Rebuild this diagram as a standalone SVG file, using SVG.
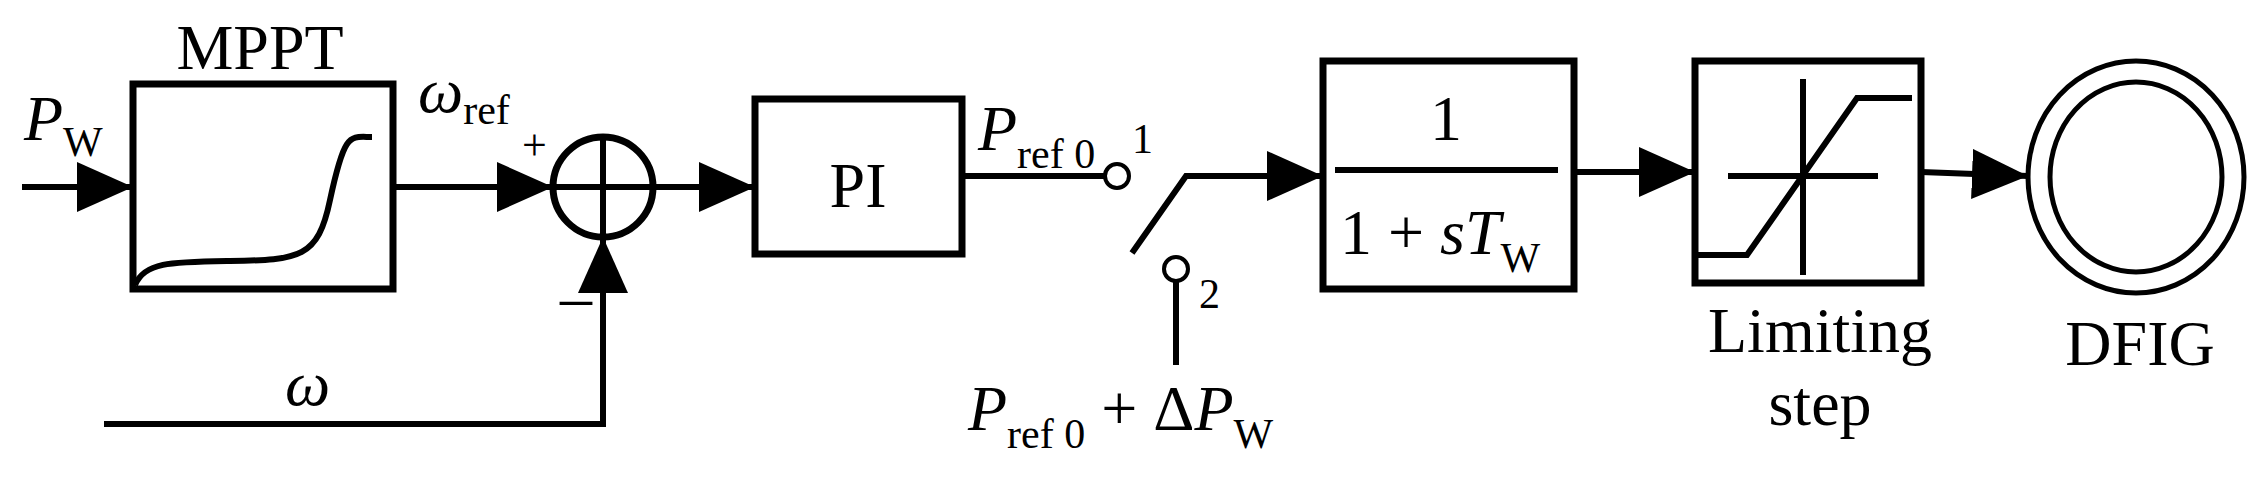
<svg xmlns="http://www.w3.org/2000/svg" width="2268" height="484" viewBox="0 0 2268 484">
<style>
.b{fill:none;stroke:#000;stroke-width:7}
.l{fill:none;stroke:#000;stroke-width:6}
.t{font-family:"Liberation Serif","Times New Roman","DejaVu Serif",serif;font-size:64px;fill:#000}
.i{font-style:italic}
.s{font-size:42px}
</style>
<defs><marker id="A" viewBox="0 0 10 10" refX="10" refY="5" markerWidth="56" markerHeight="50" orient="auto" markerUnits="userSpaceOnUse" preserveAspectRatio="none"><path d="M0,0L10,5L0,10Z"/></marker></defs>
<rect width="2268" height="484" fill="#fff"/>
<g id="mppt"><rect class="b" x="133" y="84" width="260" height="205"/>
<path class="l" d="M135,285C145,262 170,262 230,261C300,260 318,258 330,200C345,130 350,137 372,137"/>
<text class="t" x="260" y="69" text-anchor="middle">MPPT</text></g>
<g id="sum"><circle class="b" cx="603" cy="187" r="50"/><path class="l" d="M553,187H653M603,137V237"/></g>
<g id="pi"><rect class="b" x="755" y="99" width="207" height="155"/><text class="t" x="858" y="207" text-anchor="middle">PI</text></g>
<g id="switch"><circle class="l" style="stroke-width:4" cx="1117" cy="176" r="12"/><circle class="l" style="stroke-width:4" cx="1176" cy="269" r="12"/>
<path class="l" d="M1176,281V365"/><text class="t s" x="1132" y="153">1</text><text class="t s" x="1199" y="308">2</text></g>
<g id="lag"><rect class="b" x="1323" y="61" width="251" height="228"/><path class="l" d="M1335,170H1558"/>
<text class="t" x="1446" y="140" text-anchor="middle">1</text>
<text class="t" x="1340" y="254">1 + <tspan class="i">sT</tspan><tspan class="s" dy="18">W</tspan></text></g>
<g id="limit"><rect class="b" x="1695" y="61" width="226" height="222"/>
<path class="l" d="M1728,176H1878M1803,79V275M1697,255H1747L1857,98H1912"/>
<text class="t" x="1820" y="352" text-anchor="middle">Limiting</text><text class="t" x="1820" y="425" text-anchor="middle">step</text></g>
<g id="dfig"><ellipse class="l" style="stroke-width:5" cx="2136" cy="177" rx="108" ry="116"/><ellipse class="l" style="stroke-width:5" cx="2136" cy="177" rx="86" ry="95"/>
<text class="t" x="2140" y="365" text-anchor="middle">DFIG</text></g>
<g id="connectors">
<path class="l" d="M22,187H133" marker-end="url(#A)"/>
<path class="l" d="M393,187H553" marker-end="url(#A)"/>
<path class="l" d="M653,187H755" marker-end="url(#A)"/>
<path class="l" d="M104,424H603V237" marker-end="url(#A)"/>
<path class="l" d="M962,176H1105"/>
<path class="l" d="M1132,253L1186,176H1323" marker-end="url(#A)"/>
<path class="l" d="M1574,172H1695" marker-end="url(#A)"/>
<path class="l" d="M1921,172L2028,176" marker-end="url(#A)"/>
</g>
<g id="labels">
<text class="t i" x="418" y="112">ω<tspan class="s" style="font-style:normal" dy="12">ref</tspan></text>
<text class="t i" x="24" y="140">P<tspan class="s" style="font-style:normal" dy="16">W</tspan></text>
<text class="t" x="522" y="160" style="font-size:44px">+</text>
<text class="t" x="560" y="318">–</text>
<text class="t i" x="285" y="405">ω</text>
<text class="t i" x="978" y="150">P<tspan class="s" style="font-style:normal" dy="18">ref 0</tspan></text>
<text class="t i" x="968" y="430">P<tspan class="s" style="font-style:normal" dy="18">ref 0</tspan><tspan style="font-style:normal" dy="-18"> + Δ</tspan>P<tspan class="s" style="font-style:normal" dy="18">W</tspan></text>
</g>
</svg>
